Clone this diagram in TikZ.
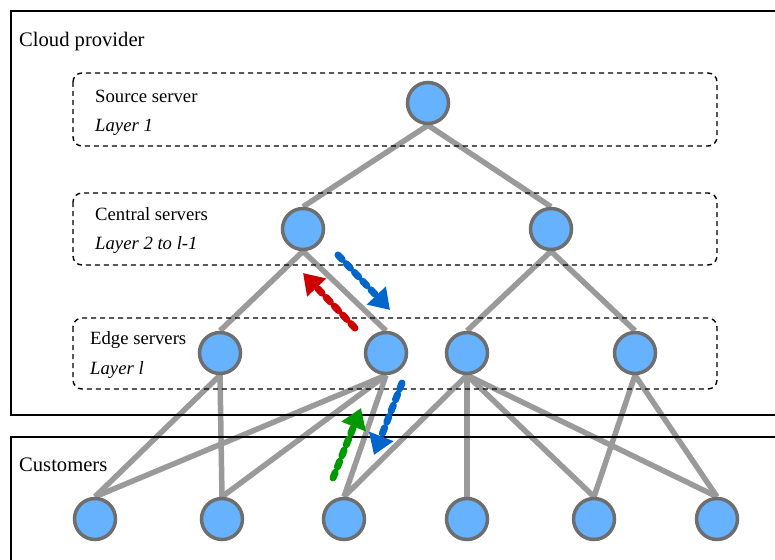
\documentclass[tikz,border=0pt]{standalone}
\usepackage{fontspec}
\setmainfont{Liberation Serif}
\usetikzlibrary{arrows.meta}
\definecolor{nodefill}{HTML}{66B2FF}
\definecolor{nodeline}{HTML}{6E6E6E}
\definecolor{edgegray}{HTML}{9A9A9A}
\definecolor{arrred}{HTML}{CC0000}
\definecolor{arrblue}{HTML}{0066CC}
\definecolor{arrgreen}{HTML}{009900}
\pgfdeclarelayer{bottom}
\pgfdeclarelayer{links}
\pgfdeclarelayer{top}
\pgfsetlayers{bottom,links,main,top}
\tikzset{
  srv/.style={circle, draw=nodeline, fill=nodefill, line width=3.5pt, minimum size=41pt, inner sep=0pt},
  link/.style={draw=edgegray, line width=5.5pt},
  layerbox/.style={draw=black, line width=1.4pt, dash pattern=on 5pt off 4pt, rounded corners=9pt},
  outerbox/.style={draw=black, line width=2.8pt},
  flow/.style={line width=7pt, line cap=round, dash pattern=on 6pt off 6pt, -{Triangle[length=20pt,width=25pt]}},
  lbl/.style={anchor=west, inner sep=0pt, font=\fontsize{18.7}{20}\selectfont},
  big/.style={anchor=west, inner sep=0pt, font=\fontsize{20.6}{22}\selectfont}
}
\begin{document}
\begin{tikzpicture}[x=1pt,y=-1pt]
\useasboundingbox (0,0) rectangle (775,559);
\begin{pgfonlayer}{bottom}
\fill[white] (0,0) rectangle (775,559);
\end{pgfonlayer}
% outer boxes
\draw[outerbox] (11,11) rectangle (800,415);
\draw[outerbox] (11,437) rectangle (800,580);
% layer boxes
\draw[layerbox] (73,73) rectangle (717,146);
\draw[layerbox] (73,193) rectangle (717,265);
\draw[layerbox] (73,318) rectangle (717,389);
% labels
\node[big] (tcloud) at (19,42) {Cloud provider};
\node[big] (tcust) at (19,465) {Customers};
\node[lbl] (t1a) at (95,96) {Source server};
\node[lbl] (t1b) at (95,127) {\itshape Layer 1};
\node[lbl] (t2a) at (95,214) {Central servers};
\node[lbl] (t2b) at (95,245) {\itshape Layer 2 to l-1};
\node[lbl] (t3a) at (90,340) {Edge servers};
\node[lbl] (t3b) at (90,370) {\itshape Layer l};
% servers
\node[srv] (S) at (428,103) {};
\node[srv] (C1) at (303,229) {};
\node[srv] (C2) at (551,229) {};
\node[srv] (E1) at (220,353) {};
\node[srv] (E2) at (386,353) {};
\node[srv] (E3) at (467,353) {};
\node[srv] (E4) at (635,353) {};
\node[srv] (U1) at (95,519) {};
\node[srv] (U2) at (222,519) {};
\node[srv] (U3) at (344,519) {};
\node[srv] (U4) at (467,519) {};
\node[srv] (U5) at (594,519) {};
\node[srv] (U6) at (717,519) {};
% links
\begin{pgfonlayer}{links}
\draw[link] (S.south) -- (C1.north);
\draw[link] (S.south) -- (C2.north);
\draw[link] (C1.south) -- (E1.north);
\draw[link] (C1.south) -- (E2.north);
\draw[link] (C2.south) -- (E3.north);
\draw[link] (C2.south) -- (E4.north);
\draw[link] (E1.south) -- (U1.north);
\draw[link] (E1.south) -- (U2.north);
\draw[link] (E2.south) -- (U1.north);
\draw[link] (E2.south) -- (U2.north);
\draw[link] (E2.south) -- (U3.north);
\draw[link] (E3.south) -- (U3.north);
\draw[link] (E3.south) -- (U4.north);
\draw[link] (E3.south) -- (U5.north);
\draw[link] (E3.south) -- (U6.north);
\draw[link] (E4.south) -- (U5.north);
\draw[link] (E4.south) -- (U6.north);
\end{pgfonlayer}
% flow arrows
\coordinate (r0) at (355,328);
\coordinate (r1) at (303,273);
\coordinate (b0) at (338,255);
\coordinate (b1) at (390,310);
\coordinate (g0) at (333,478);
\coordinate (g1) at (361,408);
\coordinate (d0) at (402,383);
\coordinate (d1) at (374,455);
\begin{pgfonlayer}{top}
\draw[flow, draw=arrred, fill=arrred] (r0) -- (r1);
\draw[flow, draw=arrblue, fill=arrblue] (b0) -- (b1);
\draw[flow, draw=arrgreen, fill=arrgreen] (g0) -- (g1);
\draw[flow, draw=arrblue, fill=arrblue] (d0) -- (d1);
\end{pgfonlayer}
\end{tikzpicture}
\end{document}
